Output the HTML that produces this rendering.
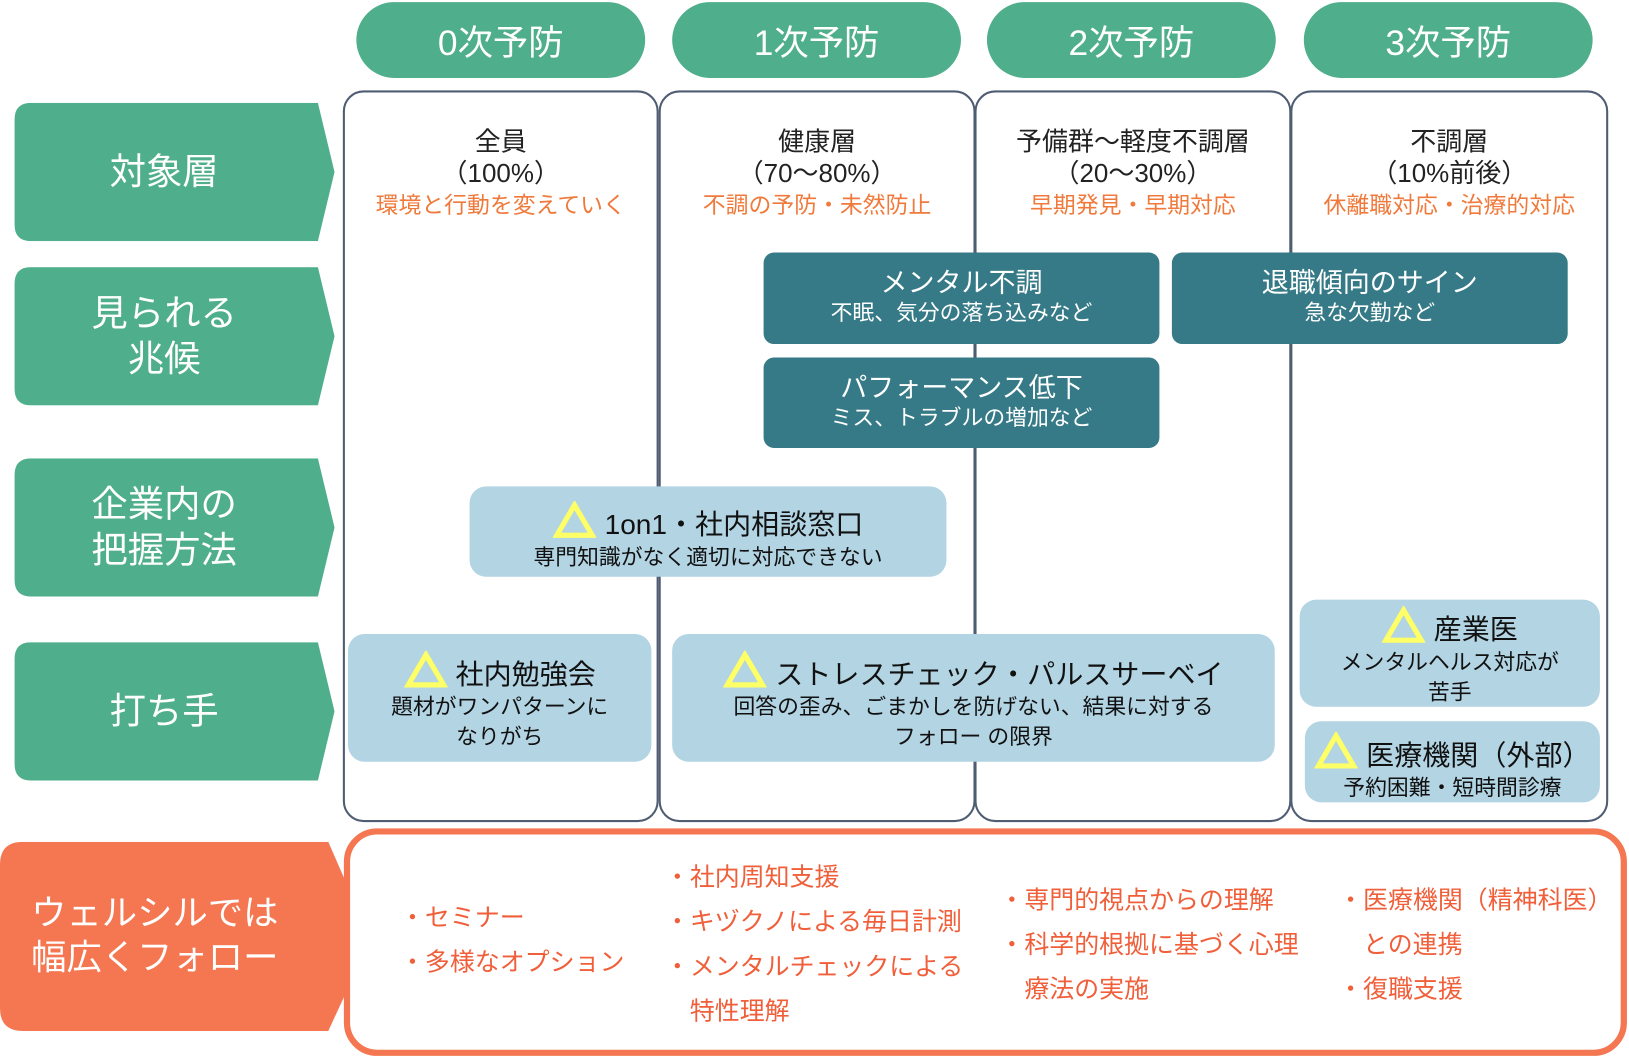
<!DOCTYPE html>
<html><head><meta charset="utf-8"><style>
html,body{margin:0;padding:0;width:1629px;height:1058px;overflow:hidden;background:#fff}
#w{position:absolute;left:0;top:0;width:1568px;height:1018px;transform:scale(1.0389,1.0393);transform-origin:0 0;font-family:"Liberation Sans","Noto Sans CJK JP",sans-serif}
.a{position:absolute;box-sizing:border-box}
.pill{background:#4fae8b;color:#fff;border-radius:38px;font-size:34px;display:flex;align-items:center;justify-content:center;top:2px;height:73px;width:278px}
.col{border:2px solid #4f5d73;border-radius:20px;top:87px;height:704px}
.arr{display:flex;align-items:center;justify-content:center;color:#fff;font-size:35px;line-height:44px;text-align:center}
.arr svg{position:absolute;left:0;top:0}
.arr span{position:relative;margin-right:20px}
.hd{text-align:center;font-size:25px;line-height:30px;color:#222}
.hd b{font-weight:normal;color:#f07a3c;font-size:22px}
.dk{background:#357a86;border-radius:10px;color:#fff;text-align:center;font-size:26px;line-height:30px;padding-top:14px}
.dk small{font-size:21px;display:block}
.lb{background:#b2d4e3;border-radius:16px;color:#111;text-align:center;font-size:21px;line-height:29px}
.lb .t{font-size:27px;line-height:33px}
.tri{display:inline-block;vertical-align:-4px;margin-right:8px}
.or{color:#f05f3a;font-size:24px;line-height:43px}
</style></head><body><div id="w">
<div class="a pill" style="left:343px">0次予防</div>
<div class="a pill" style="left:647px">1次予防</div>
<div class="a pill" style="left:950px">2次予防</div>
<div class="a pill" style="left:1255px">3次予防</div>

<div class="a col" style="left:330px;width:304px"></div>
<div class="a col" style="left:634px;width:305px"></div>
<div class="a col" style="left:938px;width:305px"></div>
<div class="a col" style="left:1242px;width:306px"></div>

<div class="a arr" style="left:14px;top:99px;width:308px;height:133px"><svg width="308" height="133"><path d="M16 0H292L308 66.5L292 133H16Q0 133 0 117V16Q0 0 16 0Z" fill="#4fae8b"/></svg><span>対象層</span></div>
<div class="a arr" style="left:14px;top:257px;width:308px;height:133px"><svg width="308" height="133"><path d="M16 0H292L308 66.5L292 133H16Q0 133 0 117V16Q0 0 16 0Z" fill="#4fae8b"/></svg><span>見られる<br>兆候</span></div>
<div class="a arr" style="left:14px;top:441px;width:308px;height:133px"><svg width="308" height="133"><path d="M16 0H292L308 66.5L292 133H16Q0 133 0 117V16Q0 0 16 0Z" fill="#4fae8b"/></svg><span>企業内の<br>把握方法</span></div>
<div class="a arr" style="left:14px;top:618px;width:308px;height:133px"><svg width="308" height="133"><path d="M16 0H292L308 66.5L292 133H16Q0 133 0 117V16Q0 0 16 0Z" fill="#4fae8b"/></svg><span>打ち手</span></div>

<div class="a hd" style="left:330px;width:304px;top:122px">全員<br>（100%）<br><b>環境と行動を変えていく</b></div>
<div class="a hd" style="left:634px;width:305px;top:122px">健康層<br>（70～80%）<br><b>不調の予防・未然防止</b></div>
<div class="a hd" style="left:938px;width:305px;top:122px">予備群～軽度不調層<br>（20～30%）<br><b>早期発見・早期対応</b></div>
<div class="a hd" style="left:1242px;width:306px;top:122px">不調層<br>（10%前後）<br><b>休離職対応・治療的対応</b></div>

<div class="a dk" style="left:735px;top:243px;width:381px;height:88px">メンタル不調<small>不眠、気分の落ち込みなど</small></div>
<div class="a dk" style="left:1128px;top:243px;width:381px;height:88px">退職傾向のサイン<small>急な欠勤など</small></div>
<div class="a dk" style="left:735px;top:344px;width:381px;height:87px">パフォーマンス低下<small>ミス、トラブルの増加など</small></div>

<div class="a lb" style="left:452px;top:468px;width:459px;height:87px;padding-top:14px"><div class="t"><svg class="tri" width="42" height="36"><path d="M21 4L38 33H4Z" fill="none" stroke="#ffff66" stroke-width="5"/></svg>1on1・社内相談窓口</div>専門知識がなく適切に対応できない</div>
<div class="a lb" style="left:335px;top:610px;width:292px;height:123px;padding-top:16px"><div class="t"><svg class="tri" width="42" height="36"><path d="M21 4L38 33H4Z" fill="none" stroke="#ffff66" stroke-width="5"/></svg>社内勉強会</div>題材がワンパターンに<br>なりがち</div>
<div class="a lb" style="left:647px;top:610px;width:580px;height:123px;padding-top:16px"><div class="t"><svg class="tri" width="42" height="36"><path d="M21 4L38 33H4Z" fill="none" stroke="#ffff66" stroke-width="5"/></svg>ストレスチェック・パルスサーベイ</div>回答の歪み、ごまかしを防げない、結果に対する<br>フォロー の限界</div>
<div class="a lb" style="left:1251px;top:577px;width:289px;height:103px;padding-top:6px"><div class="t"><svg class="tri" width="42" height="36"><path d="M21 4L38 33H4Z" fill="none" stroke="#ffff66" stroke-width="5"/></svg>産業医</div>メンタルヘルス対応が<br>苦手</div>
<div class="a lb" style="left:1256px;top:694px;width:284px;height:78px;padding-top:10px"><div class="t"><svg class="tri" width="42" height="36"><path d="M21 4L38 33H4Z" fill="none" stroke="#ffff66" stroke-width="5"/></svg>医療機関（外部）</div>予約困難・短時間診療</div>

<div class="a arr" style="left:0;top:810px;width:345px;height:182px;justify-content:flex-start"><svg width="345" height="182"><path d="M22 0H316L340 55L354 95L340 130L316 182H22Q0 182 0 160V22Q0 0 22 0Z" fill="#f47752"/></svg><span style="text-align:left;margin-left:30px;font-size:34px;line-height:43px">ウェルシルでは<br>幅広くフォロー</span></div>
<div class="a" style="left:331px;top:797px;width:1235px;height:219px;border:6px solid #f47752;border-radius:32px;background:#fff"></div>
<div class="a or" style="left:385px;top:862px">・セミナー<br>・多様なオプション</div>
<div class="a or" style="left:640px;top:823px">・社内周知支援<br>・キヅクノによる毎日計測<br>・メンタルチェックによる<br>　特性理解</div>
<div class="a or" style="left:962px;top:845px">・専門的視点からの理解<br>・科学的根拠に基づく心理<br>　療法の実施</div>
<div class="a or" style="left:1288px;top:845px">・医療機関（精神科医）<br>　との連携<br>・復職支援</div>
</div></body></html>
